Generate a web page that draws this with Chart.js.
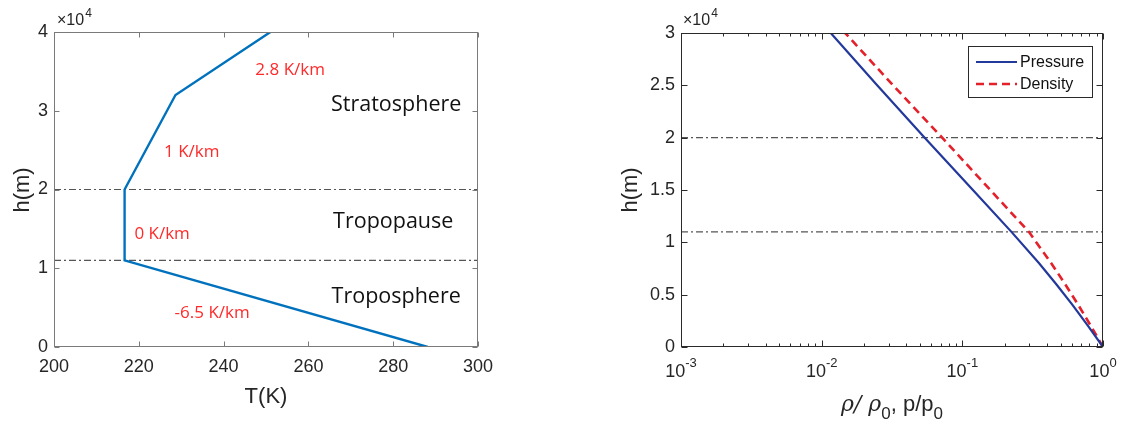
<!DOCTYPE html>
<html>
<head>
<meta charset="utf-8">
<script src="https://cdn.jsdelivr.net/npm/chart.js@4.4.1/dist/chart.umd.min.js"></script>
<style>
    html, body { margin: 0; padding: 0; background: #fff; }
    body { width: 1143px; height: 428px; position: relative; overflow: hidden; }
    .panel { position: absolute; top: 0; height: 428px; }
    #leftPanel { left: 0; width: 560px; }
    #rightPanel { left: 580px; width: 563px; }
</style>
</head>
<body>
<div class="panel" id="leftPanel"><canvas id="tempChart"></canvas></div>
<div class="panel" id="rightPanel"><canvas id="ratioChart"></canvas></div>
<script>
// Температурный профиль (левый график)
const tempAltitude = [0, 11000, 20000, 32000, 40000];
const temperatureK = [288.15, 216.65, 216.65, 228.65, 251.05];

// Отношения давления и плотности (правый график)
const ratioAltitude = [0, 2000, 4000, 6000, 8000, 11000, 15000, 20000, 25000, 30000];
const pressureRatio = [1, 0.7846, 0.6084, 0.4656, 0.3513, 0.2234, 0.1189, 0.0540, 0.0248, 0.0116];
const densityRatio = [1, 0.8216, 0.6687, 0.5385, 0.4287, 0.2971, 0.1581, 0.0719, 0.0322, 0.0147];

// Границы слоёв (штрих-пунктир)
const layerBounds = [11000, 20000];

// Деления осей
const tempTicksX = [200, 220, 240, 260, 280, 300];
const tempTicksY = [0, 10000, 20000, 30000, 40000];
const ratioTicksX = [0.001, 0.01, 0.1, 1];
const ratioTicksY = [0, 5000, 10000, 15000, 20000, 25000, 30000];

// Подписи на левом графике
const rateLabels = ['2.8 K/km', '1 K/km', '0 K/km', '-6.5 K/km'];
const rateLabelPos = [[255.7, 35200], [232.5, 24800], [225.5, 14300], [237.3, 4300]];
const layerNames = ['Stratosphere', 'Tropopause', 'Troposphere'];
const layerNamePos = [[280.7, 30700], [280.0, 15900], [280.7, 6350]];

const TICK_FONT = 'Liberation Sans';
const TEXT_COLOR = '#262626';

function toPoints(xs, ys) {
    return xs.map((x, i) => ({ x: x, y: ys[i] }));
}

function boundDatasets(xMin, xMax) {
    return layerBounds.map(h => ({
        data: [{ x: xMin, y: h }, { x: xMax, y: h }],
        borderColor: '#555',
        borderWidth: 1.1,
        borderDash: [7, 3, 2, 3],
        pointRadius: 0,
        fill: false
    }));
}

// Рамка и внутренние засечки, как в MATLAB
function drawBoxTicks(chart, color, len, minorLen) {
    const ctx = chart.ctx;
    const a = chart.chartArea;
    const sx = chart.scales.x;
    const sy = chart.scales.y;
    const l = Math.round(a.left) + 0.5, r = Math.round(a.right) - 0.5;
    const t = Math.round(a.top) + 0.5, b = Math.round(a.bottom) - 0.5;

    ctx.save();
    ctx.strokeStyle = color;
    ctx.lineWidth = 1;
    ctx.strokeRect(l, t, r - l, b - t);
    ctx.beginPath();
    sx.ticks.forEach(tk => {
        const px = Math.round(sx.getPixelForValue(tk.value)) + 0.5;
        const n = tk.minor ? minorLen : len;
        ctx.moveTo(px, b); ctx.lineTo(px, b - n);
        ctx.moveTo(px, t); ctx.lineTo(px, t + n);
    });
    sy.ticks.forEach(tk => {
        const py = Math.round(sy.getPixelForValue(tk.value)) + 0.5;
        ctx.moveTo(l, py); ctx.lineTo(l + len, py);
        ctx.moveTo(r, py); ctx.lineTo(r - len, py);
    });
    ctx.stroke();
    ctx.restore();
}

function drawMultiplier(ctx, x, y) {
    ctx.save();
    ctx.fillStyle = TEXT_COLOR;
    ctx.textBaseline = 'alphabetic';
    ctx.textAlign = 'left';
    ctx.font = '16px ' + TICK_FONT;
    ctx.fillText('\u00d710', x, y);
    const w = ctx.measureText('\u00d710').width;
    ctx.font = '12px ' + TICK_FONT;
    ctx.fillText('4', x + w + 1, y - 8);
    ctx.restore();
}

function drawPieces(ctx, pieces, cx, y) {
    let total = 0;
    pieces.forEach(p => { ctx.font = p.font; p.w = ctx.measureText(p.t).width; total += p.w; });
    let x = cx - total / 2;
    pieces.forEach(p => {
        ctx.font = p.font;
        ctx.fillText(p.t, x, y + p.dy);
        x += p.w;
    });
}

const tempDecor = {
    id: 'tempDecor',
    afterDraw(chart) {
        const ctx = chart.ctx;
        const a = chart.chartArea;
        const sx = chart.scales.x, sy = chart.scales.y;
        drawBoxTicks(chart, '#7a7a7a', 5, 3);
        drawMultiplier(ctx, a.left + 3, a.top - 7);

        ctx.save();
        ctx.textAlign = 'center';
        ctx.textBaseline = 'middle';
        ctx.fillStyle = '#ff2a2a';
        ctx.font = '17px "Open Sans"';
        rateLabels.forEach((s, i) => {
            ctx.fillText(s, sx.getPixelForValue(rateLabelPos[i][0]), sy.getPixelForValue(rateLabelPos[i][1]));
        });
        ctx.fillStyle = '#111';
        ctx.font = '21.5px "Open Sans"';
        layerNames.forEach((s, i) => {
            ctx.fillText(s, sx.getPixelForValue(layerNamePos[i][0]), sy.getPixelForValue(layerNamePos[i][1]));
        });

        // Подписи осей
        ctx.fillStyle = TEXT_COLOR;
        ctx.font = '22px ' + TICK_FONT;
        ctx.fillText('T(K)', (a.left + a.right) / 2, 397);
        ctx.translate(23, 190);
        ctx.rotate(-Math.PI / 2);
        ctx.fillText('h(m)', 0, 0);
        ctx.restore();
    }
};

const ratioDecor = {
    id: 'ratioDecor',
    afterDraw(chart) {
        const ctx = chart.ctx;
        const a = chart.chartArea;
        const sx = chart.scales.x;
        drawBoxTicks(chart, '#2a2a2a', 6, 3);
        drawMultiplier(ctx, a.left + 2, a.top - 8);

        ctx.save();
        ctx.fillStyle = TEXT_COLOR;
        ctx.textBaseline = 'alphabetic';
        ctx.textAlign = 'left';
        // Подписи степеней десяти
        ratioTicksX.forEach(v => {
            const e = Math.round(Math.log10(v));
            drawPieces(ctx, [
                { t: '10', font: '18px ' + TICK_FONT, dy: 0 },
                { t: String(e), font: '13px ' + TICK_FONT, dy: -10 }
            ], sx.getPixelForValue(v), 377);
        });

        // Подпись оси X с индексами
        drawPieces(ctx, [
            { t: '\u03c1/ \u03c1', font: 'italic 22px "DejaVu Serif"', dy: 0 },
            { t: '0', font: '17px ' + TICK_FONT, dy: 8 },
            { t: ', p/p', font: '22px ' + TICK_FONT, dy: 0 },
            { t: '0', font: '17px ' + TICK_FONT, dy: 8 }
        ], (a.left + a.right) / 2, 411);

        ctx.textAlign = 'center';
        ctx.textBaseline = 'middle';
        ctx.font = '22px ' + TICK_FONT;
        ctx.save();
        ctx.translate(51, 190);
        ctx.rotate(-Math.PI / 2);
        ctx.fillText('h(m)', 0, 0);
        ctx.restore();

        // Легенда
        const bx = a.right - 135, by = a.top + 13, bw = 124, bh = 51;
        ctx.fillStyle = '#fff';
        ctx.fillRect(bx, by, bw, bh);
        ctx.strokeStyle = '#2a2a2a';
        ctx.lineWidth = 1;
        ctx.strokeRect(bx + 0.5, by + 0.5, bw, bh);
        ctx.textAlign = 'left';
        ctx.font = '16px ' + TICK_FONT;
        [0, 1].forEach(i => {
            const ds = chart.data.datasets[i];
            const y = by + 16 + i * 22;
            ctx.save();
            ctx.strokeStyle = ds.borderColor;
            ctx.lineWidth = ds.borderWidth;
            ctx.setLineDash(ds.borderDash || []);
            ctx.beginPath();
            ctx.moveTo(bx + 8, y);
            ctx.lineTo(bx + 49, y);
            ctx.stroke();
            ctx.restore();
            ctx.fillStyle = '#111';
            ctx.fillText(ds.label, bx + 52, y + 1);
        });
        ctx.restore();
    }
};

function yScale(ticks, width, min, max) {
    return {
        type: 'linear',
        min: min,
        max: max,
        grid: { display: false, drawTicks: false },
        border: { display: false },
        afterBuildTicks: s => { s.ticks = ticks.map(v => ({ value: v })); },
        afterFit: s => { s.width = width; },
        ticks: {
            padding: 6,
            color: TEXT_COLOR,
            font: { family: TICK_FONT, size: 18 },
            callback: v => String(v / 10000)
        }
    };
}

const tempChart = new Chart(document.getElementById('tempChart'), {
    type: 'line',
    data: {
        datasets: [{
            label: 'T',
            data: toPoints(temperatureK, tempAltitude),
            borderColor: '#0072bd',
            borderWidth: 2.4,
            pointRadius: 0,
            tension: 0,
            fill: false
        }].concat(boundDatasets(tempTicksX[0], tempTicksX[tempTicksX.length - 1]))
    },
    options: {
        responsive: true,
        maintainAspectRatio: false,
        animation: false,
        layout: { padding: { top: 32, right: 82, left: 0, bottom: 0 } },
        plugins: { legend: { display: false }, tooltip: { enabled: false } },
        scales: {
            x: {
                type: 'linear',
                min: 200,
                max: 300,
                grid: { display: false, drawTicks: false },
                border: { display: false },
                afterBuildTicks: s => { s.ticks = tempTicksX.map(v => ({ value: v })); },
                afterFit: s => { s.height = 81; },
                ticks: {
                    padding: 9,
                    color: TEXT_COLOR,
                    maxRotation: 0,
                    font: { family: TICK_FONT, size: 18 },
                    callback: v => String(v)
                }
            },
            y: yScale(tempTicksY, 54, 0, 40000)
        }
    },
    plugins: [tempDecor]
});

// Логарифмическая ось: основные и промежуточные засечки
function logTicks() {
    const out = [];
    ratioTicksX.forEach((v, i) => {
        out.push({ value: v });
        if (i < ratioTicksX.length - 1) {
            for (let m = 2; m <= 9; m++) out.push({ value: v * m, minor: true });
        }
    });
    return out;
}

const ratioChart = new Chart(document.getElementById('ratioChart'), {
    type: 'line',
    data: {
        datasets: [{
            label: 'Pressure',
            data: toPoints(pressureRatio, ratioAltitude),
            borderColor: '#23389b',
            borderWidth: 2.2,
            pointRadius: 0,
            tension: 0,
            fill: false
        }, {
            label: 'Density',
            data: toPoints(densityRatio, ratioAltitude),
            borderColor: '#e4202a',
            borderWidth: 2.6,
            borderDash: [8, 5],
            pointRadius: 0,
            tension: 0,
            fill: false
        }].concat(boundDatasets(ratioTicksX[0], ratioTicksX[ratioTicksX.length - 1]))
    },
    options: {
        responsive: true,
        maintainAspectRatio: false,
        animation: false,
        layout: { padding: { top: 33, right: 40, left: 0, bottom: 0 } },
        plugins: { legend: { display: false }, tooltip: { enabled: false } },
        scales: {
            x: {
                type: 'logarithmic',
                min: 0.001,
                max: 1,
                grid: { display: false, drawTicks: false },
                border: { display: false },
                afterBuildTicks: s => { s.ticks = logTicks(); },
                afterFit: s => { s.height = 81; },
                ticks: { display: false }
            },
            y: yScale(ratioTicksY, 101, 0, 30000)
        }
    },
    plugins: [ratioDecor]
});
</script>
</body>
</html>
